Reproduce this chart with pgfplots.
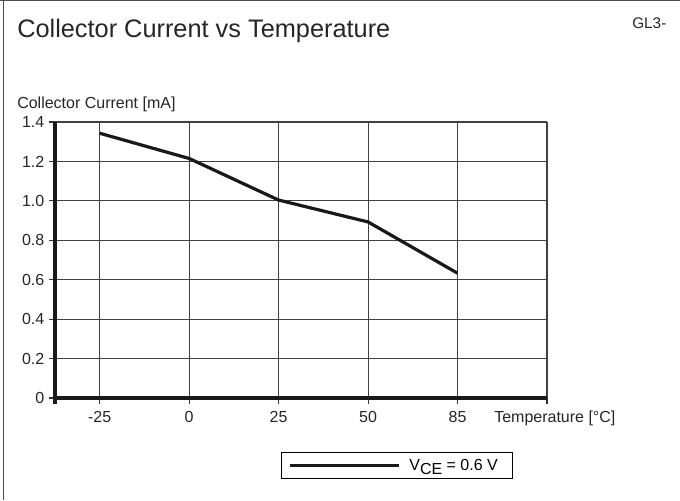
\documentclass[border=0pt]{standalone}
\usepackage{pgfplots}
\pgfplotsset{compat=1.18}
\usepackage{fontspec}
\setmainfont{Liberation Sans}
\begin{document}
\begin{tikzpicture}
\useasboundingbox (0,0) rectangle (510pt,-375pt);
\fill[white] (0,0) rectangle (510pt,-375pt);
\draw[line width=1pt, black!70] (2.6pt,0pt) -- (2.6pt,-375pt);
\draw[line width=1pt, black!70] (0pt,-0.5pt) -- (510pt,-0.5pt);
\node[anchor=base west, font=\fontsize{19}{22}\selectfont, inner sep=0pt, text=black!85] at (12.75pt,-27.75pt) {Collector Current vs Temperature};
\node[anchor=base west, font=\fontsize{11.5}{13}\selectfont, inner sep=0pt, text=black!85] at (474pt,-21.25pt) {GL3-};
\node[anchor=base west, font=\fontsize{12}{14}\selectfont, inner sep=0pt, text=black!85] at (12.75pt,-81pt) {Collector Current [mA]};
\node[anchor=base west, font=\fontsize{12}{14}\selectfont, inner sep=0pt, text=black!85] at (370.5pt,-317pt) {Temperature [°C]};
\begin{axis}[
  at={(41.25pt,-298.5pt)}, anchor=south west,
  width=369pt, height=207pt, scale only axis,
  xmin=-0.5, xmax=5, ymin=0, ymax=1.4,
  xtick={-0.5,0,1,2,3,4,5},
  xticklabels={,-25,0,25,50,85,},
  ytick={0,0.2,0.4,0.6,0.8,1.0,1.2,1.4},
  yticklabels={0,0.2,0.4,0.6,0.8,1.0,1.2,1.4},
  axis x line*=bottom, axis y line*=left,
  axis line style={line width=0.8pt, black!75, -},
  grid=major, major grid style={line width=0.8pt, black!75},
  tick align=outside, major tick length=4.5pt,
  tick style={line width=0.8pt, black!80},
  ticklabel style={font=\fontsize{12}{14}\selectfont, text=black!85},
  xticklabel shift=2.2pt,
  legend style={at={(0.4593,-0.2446)}, anchor=west, draw=black, line width=0.75pt,
    font=\fontsize{12}{14}\selectfont, inner xsep=0pt, inner ysep=3pt},
  legend image code/.code={\path (0pt,0pt); \draw[line width=2.4pt, black!90] (5pt,0pt) -- (87pt,0pt);},
  clip=false,
]
\addplot[line width=2.4pt, black!90, line join=round] coordinates {
  (0,1.343) (1,1.215) (2,1.004) (3,0.893) (4,0.633)
};
\addlegendentry{\hspace{4.5pt}V\raisebox{-3pt}{CE} = 0.6 V\rule{9pt}{0pt}}
\coordinate (bl) at (axis cs:-0.5,0);
\coordinate (tl) at (axis cs:-0.5,1.4);
\coordinate (br) at (axis cs:5,0);
\end{axis}
\draw[line width=2.4pt, black!90] ([yshift=-4.5pt]bl) -- (tl);
\draw[line width=2.4pt, black!90] ([xshift=-1.2pt]bl) -- (br);
\end{tikzpicture}
\end{document}
